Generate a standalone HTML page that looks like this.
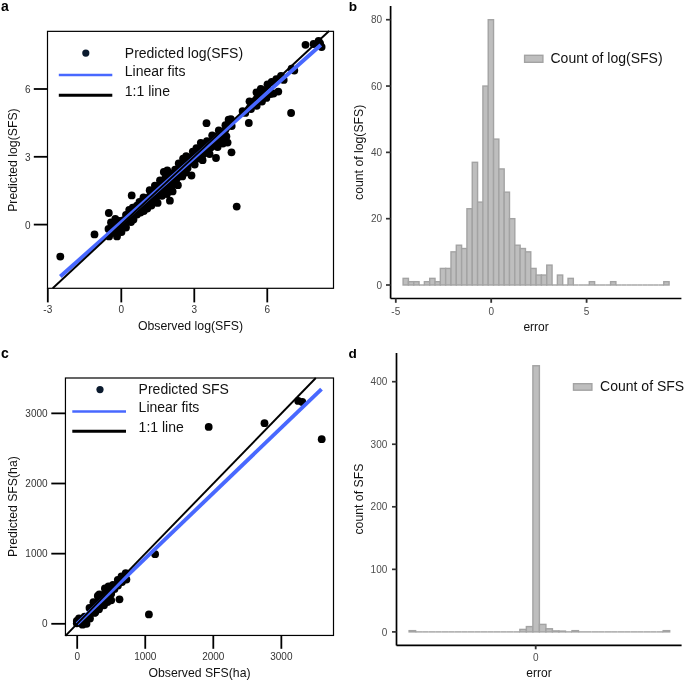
<!DOCTYPE html>
<html><head><meta charset="utf-8"><style>
html,body{margin:0;padding:0;background:#fff;}
svg{display:block;font-family:"Liberation Sans", sans-serif;will-change:transform;}
</style></head><body>
<svg width="685" height="681" viewBox="0 0 685 681">
<rect width="685" height="681" fill="#fff"/>
<text x="1.0" y="11.4" font-size="14" text-anchor="start" font-weight="bold" fill="#000">a</text>
<text x="348.7" y="11.3" font-size="13.6" text-anchor="start" font-weight="bold" fill="#000">b</text>
<text x="1.0" y="358.2" font-size="14" text-anchor="start" font-weight="bold" fill="#000">c</text>
<text x="348.5" y="358.2" font-size="13.6" text-anchor="start" font-weight="bold" fill="#000">d</text>
<polygon points="108.5,229 111,222.5 115.3,219 119.5,221 123,220.5 126,215 129.2,209.8 132.7,207.7 136.9,205.7 139.5,202 143.5,197.3 149.7,190.2 154.9,185.6 160,180.3 163.8,172 167.3,170.5 175.1,169.6 178.7,163.5 183.1,158.6 186.2,156.1 192.8,151.6 196.4,148.1 200.8,142.8 206.9,141.1 212.2,135.3 218.8,130.5 225.4,125.2 228.6,119.7 230.9,119.1 231.7,126.1 226.4,136.4 222.9,143.5 217.6,147 209.6,154.1 202.6,160.2 194.7,164.6 187.6,168.1 182.3,176.4 177.9,185.2 172.6,191.4 167,194 162,195.8 157.6,202.9 151.4,205.5 147.3,208.5 143.8,211 140.5,212.5 137,214.5 133.5,219.5 131,222 126,227.5 121.5,232 117,236.4 109.1,236.4" fill="#000000"/>
<polygon points="242.6,111.1 249.5,101.3 256.5,92.5 260.8,89 267.5,84.3 271.7,82 270.5,94 266.4,97.9 262,101.5 256.7,105.8 251,109 245.3,112.9" fill="#000000"/>
<circle cx="108.5" cy="229" r="3.9" fill="#000000"/>
<circle cx="111" cy="222.5" r="3.9" fill="#000000"/>
<circle cx="115.3" cy="219" r="3.9" fill="#000000"/>
<circle cx="119.5" cy="221" r="3.9" fill="#000000"/>
<circle cx="123" cy="220.5" r="3.9" fill="#000000"/>
<circle cx="126" cy="215" r="3.9" fill="#000000"/>
<circle cx="129.2" cy="209.8" r="3.9" fill="#000000"/>
<circle cx="132.7" cy="207.7" r="3.9" fill="#000000"/>
<circle cx="136.9" cy="205.7" r="3.9" fill="#000000"/>
<circle cx="139.5" cy="202" r="3.9" fill="#000000"/>
<circle cx="143.5" cy="197.3" r="3.9" fill="#000000"/>
<circle cx="149.7" cy="190.2" r="3.9" fill="#000000"/>
<circle cx="154.9" cy="185.6" r="3.9" fill="#000000"/>
<circle cx="160" cy="180.3" r="3.9" fill="#000000"/>
<circle cx="163.8" cy="172" r="3.9" fill="#000000"/>
<circle cx="167.3" cy="170.5" r="3.9" fill="#000000"/>
<circle cx="175.1" cy="169.6" r="3.9" fill="#000000"/>
<circle cx="178.7" cy="163.5" r="3.9" fill="#000000"/>
<circle cx="183.1" cy="158.6" r="3.9" fill="#000000"/>
<circle cx="186.2" cy="156.1" r="3.9" fill="#000000"/>
<circle cx="192.8" cy="151.6" r="3.9" fill="#000000"/>
<circle cx="196.4" cy="148.1" r="3.9" fill="#000000"/>
<circle cx="200.8" cy="142.8" r="3.9" fill="#000000"/>
<circle cx="206.9" cy="141.1" r="3.9" fill="#000000"/>
<circle cx="212.2" cy="135.3" r="3.9" fill="#000000"/>
<circle cx="218.8" cy="130.5" r="3.9" fill="#000000"/>
<circle cx="225.4" cy="125.2" r="3.9" fill="#000000"/>
<circle cx="228.6" cy="119.7" r="3.9" fill="#000000"/>
<circle cx="230.9" cy="119.1" r="3.9" fill="#000000"/>
<circle cx="109.1" cy="236.4" r="3.9" fill="#000000"/>
<circle cx="117" cy="236.4" r="3.9" fill="#000000"/>
<circle cx="121.5" cy="232" r="3.9" fill="#000000"/>
<circle cx="126" cy="227.5" r="3.9" fill="#000000"/>
<circle cx="131" cy="222" r="3.9" fill="#000000"/>
<circle cx="133.5" cy="219.5" r="3.9" fill="#000000"/>
<circle cx="137" cy="214.5" r="3.9" fill="#000000"/>
<circle cx="140.5" cy="212.5" r="3.9" fill="#000000"/>
<circle cx="143.8" cy="211" r="3.9" fill="#000000"/>
<circle cx="147.3" cy="208.5" r="3.9" fill="#000000"/>
<circle cx="151.4" cy="205.5" r="3.9" fill="#000000"/>
<circle cx="157.6" cy="202.9" r="3.9" fill="#000000"/>
<circle cx="162" cy="195.8" r="3.9" fill="#000000"/>
<circle cx="167" cy="194" r="3.9" fill="#000000"/>
<circle cx="172.6" cy="191.4" r="3.9" fill="#000000"/>
<circle cx="177.9" cy="185.2" r="3.9" fill="#000000"/>
<circle cx="182.3" cy="176.4" r="3.9" fill="#000000"/>
<circle cx="187.6" cy="168.1" r="3.9" fill="#000000"/>
<circle cx="194.7" cy="164.6" r="3.9" fill="#000000"/>
<circle cx="202.6" cy="160.2" r="3.9" fill="#000000"/>
<circle cx="209.6" cy="154.1" r="3.9" fill="#000000"/>
<circle cx="217.6" cy="147" r="3.9" fill="#000000"/>
<circle cx="222.9" cy="143.5" r="3.9" fill="#000000"/>
<circle cx="226.4" cy="136.4" r="3.9" fill="#000000"/>
<circle cx="231.7" cy="126.1" r="3.9" fill="#000000"/>
<circle cx="242.6" cy="111.1" r="3.9" fill="#000000"/>
<circle cx="249.5" cy="101.3" r="3.9" fill="#000000"/>
<circle cx="256.5" cy="92.5" r="3.9" fill="#000000"/>
<circle cx="260.8" cy="89" r="3.9" fill="#000000"/>
<circle cx="267.5" cy="84.3" r="3.9" fill="#000000"/>
<circle cx="271.7" cy="82" r="3.9" fill="#000000"/>
<circle cx="245.3" cy="112.9" r="3.9" fill="#000000"/>
<circle cx="251" cy="109" r="3.9" fill="#000000"/>
<circle cx="256.7" cy="105.8" r="3.9" fill="#000000"/>
<circle cx="262" cy="101.5" r="3.9" fill="#000000"/>
<circle cx="266.4" cy="97.9" r="3.9" fill="#000000"/>
<circle cx="270.5" cy="94" r="3.9" fill="#000000"/>
<circle cx="60.3" cy="256.6" r="3.9" fill="#000000"/>
<circle cx="94.5" cy="234.4" r="3.9" fill="#000000"/>
<circle cx="108.8" cy="213.0" r="3.9" fill="#000000"/>
<circle cx="131.7" cy="195.4" r="3.9" fill="#000000"/>
<circle cx="169.9" cy="200.7" r="3.9" fill="#000000"/>
<circle cx="206.5" cy="123.2" r="3.9" fill="#000000"/>
<circle cx="216" cy="158" r="3.9" fill="#000000"/>
<circle cx="227.6" cy="142.6" r="3.9" fill="#000000"/>
<circle cx="231.5" cy="152.3" r="3.9" fill="#000000"/>
<circle cx="236.7" cy="206.6" r="3.9" fill="#000000"/>
<circle cx="248.8" cy="123" r="3.9" fill="#000000"/>
<circle cx="291.1" cy="113" r="3.9" fill="#000000"/>
<circle cx="305.5" cy="44.8" r="3.9" fill="#000000"/>
<circle cx="313.6" cy="44" r="3.9" fill="#000000"/>
<circle cx="318.6" cy="40.8" r="3.9" fill="#000000"/>
<circle cx="320.1" cy="43.4" r="3.9" fill="#000000"/>
<circle cx="321.6" cy="47" r="3.9" fill="#000000"/>
<circle cx="191.5" cy="175.5" r="3.9" fill="#000000"/>
<circle cx="186" cy="172.5" r="3.9" fill="#000000"/>
<circle cx="273.5" cy="93.5" r="3.9" fill="#000000"/>
<circle cx="278.3" cy="91.6" r="3.9" fill="#000000"/>
<circle cx="276.3" cy="79.2" r="3.9" fill="#000000"/>
<circle cx="281" cy="75.8" r="3.9" fill="#000000"/>
<circle cx="283.7" cy="79.9" r="3.9" fill="#000000"/>
<circle cx="291.6" cy="68.6" r="3.9" fill="#000000"/>
<circle cx="294.3" cy="70.5" r="3.9" fill="#000000"/>
<line x1="60.3" y1="276.6" x2="320.8" y2="44.9" stroke="#4868ff" stroke-width="4.0" stroke-linecap="butt"/>
<line x1="52.7" y1="288.3" x2="329.1" y2="31.0" stroke="#000" stroke-width="1.9" stroke-linecap="butt"/>
<rect x="47.5" y="31.35" width="286.0" height="256.95" fill="none" stroke="#000" stroke-width="1.2"/>
<line x1="33.8" y1="224.6" x2="47.5" y2="224.6" stroke="#000" stroke-width="1.8" stroke-linecap="butt"/>
<text x="30.5" y="228.7" font-size="10" text-anchor="end" font-weight="normal" fill="#333333">0</text>
<line x1="33.8" y1="156.79999999999998" x2="47.5" y2="156.79999999999998" stroke="#000" stroke-width="1.8" stroke-linecap="butt"/>
<text x="30.5" y="160.89999999999998" font-size="10" text-anchor="end" font-weight="normal" fill="#333333">3</text>
<line x1="33.8" y1="88.99999999999997" x2="47.5" y2="88.99999999999997" stroke="#000" stroke-width="1.8" stroke-linecap="butt"/>
<text x="30.5" y="93.09999999999997" font-size="10" text-anchor="end" font-weight="normal" fill="#333333">6</text>
<line x1="47.8" y1="288.3" x2="47.8" y2="302.4" stroke="#000" stroke-width="1.8" stroke-linecap="butt"/>
<text x="47.8" y="313.2" font-size="10" text-anchor="middle" font-weight="normal" fill="#333333">-3</text>
<line x1="121.3" y1="288.3" x2="121.3" y2="302.4" stroke="#000" stroke-width="1.8" stroke-linecap="butt"/>
<text x="121.3" y="313.2" font-size="10" text-anchor="middle" font-weight="normal" fill="#333333">0</text>
<line x1="194.29" y1="288.3" x2="194.29" y2="302.4" stroke="#000" stroke-width="1.8" stroke-linecap="butt"/>
<text x="194.29" y="313.2" font-size="10" text-anchor="middle" font-weight="normal" fill="#333333">3</text>
<line x1="267.28" y1="288.3" x2="267.28" y2="302.4" stroke="#000" stroke-width="1.8" stroke-linecap="butt"/>
<text x="267.28" y="313.2" font-size="10" text-anchor="middle" font-weight="normal" fill="#333333">6</text>
<text x="190.5" y="330.4" font-size="12.3" text-anchor="middle" font-weight="normal" fill="#111">Observed log(SFS)</text>
<text x="17.3" y="160.1" font-size="12.25" text-anchor="middle" font-weight="normal" fill="#111" transform="rotate(-90 17.3 160.1)">Predicted log(SFS)</text>
<circle cx="85.8" cy="53.1" r="3.6" fill="#0b1a2e"/>
<line x1="58.8" y1="75.0" x2="112.3" y2="75.0" stroke="#4868ff" stroke-width="2.5" stroke-linecap="butt"/>
<line x1="58.8" y1="95.2" x2="112.3" y2="95.2" stroke="#000" stroke-width="3.0" stroke-linecap="butt"/>
<text x="124.8" y="58.3" font-size="14" text-anchor="start" font-weight="normal" fill="#111">Predicted log(SFS)</text>
<text x="124.8" y="75.8" font-size="14" text-anchor="start" font-weight="normal" fill="#111">Linear fits</text>
<text x="124.8" y="95.7" font-size="14" text-anchor="start" font-weight="normal" fill="#111">1:1 line</text>
<rect x="403.10" y="278.37" width="5.32" height="6.63" fill="#bebebe" stroke="#a3a3a3" stroke-width="1.4"/>
<rect x="408.42" y="281.68" width="5.32" height="3.32" fill="#bebebe" stroke="#a3a3a3" stroke-width="1.4"/>
<rect x="413.74" y="281.68" width="5.32" height="3.32" fill="#bebebe" stroke="#a3a3a3" stroke-width="1.4"/>
<line x1="419.06" y1="285.0" x2="424.38" y2="285.0" stroke="#a3a3a3" stroke-width="1.4" stroke-linecap="butt"/>
<rect x="424.38" y="281.68" width="5.32" height="3.32" fill="#bebebe" stroke="#a3a3a3" stroke-width="1.4"/>
<rect x="429.70" y="278.37" width="5.32" height="6.63" fill="#bebebe" stroke="#a3a3a3" stroke-width="1.4"/>
<rect x="435.02" y="281.68" width="5.32" height="3.32" fill="#bebebe" stroke="#a3a3a3" stroke-width="1.4"/>
<rect x="440.34" y="268.42" width="5.32" height="16.58" fill="#bebebe" stroke="#a3a3a3" stroke-width="1.4"/>
<rect x="445.66" y="268.42" width="5.32" height="16.58" fill="#bebebe" stroke="#a3a3a3" stroke-width="1.4"/>
<rect x="450.98" y="251.84" width="5.32" height="33.16" fill="#bebebe" stroke="#a3a3a3" stroke-width="1.4"/>
<rect x="456.30" y="245.21" width="5.32" height="39.79" fill="#bebebe" stroke="#a3a3a3" stroke-width="1.4"/>
<rect x="461.62" y="248.52" width="5.32" height="36.48" fill="#bebebe" stroke="#a3a3a3" stroke-width="1.4"/>
<rect x="466.94" y="208.73" width="5.32" height="76.27" fill="#bebebe" stroke="#a3a3a3" stroke-width="1.4"/>
<rect x="472.26" y="162.31" width="5.32" height="122.69" fill="#bebebe" stroke="#a3a3a3" stroke-width="1.4"/>
<rect x="477.58" y="202.10" width="5.32" height="82.90" fill="#bebebe" stroke="#a3a3a3" stroke-width="1.4"/>
<rect x="482.90" y="86.04" width="5.32" height="198.96" fill="#bebebe" stroke="#a3a3a3" stroke-width="1.4"/>
<rect x="488.22" y="19.72" width="5.32" height="265.28" fill="#bebebe" stroke="#a3a3a3" stroke-width="1.4"/>
<rect x="493.54" y="139.10" width="5.32" height="145.90" fill="#bebebe" stroke="#a3a3a3" stroke-width="1.4"/>
<rect x="498.86" y="168.94" width="5.32" height="116.06" fill="#bebebe" stroke="#a3a3a3" stroke-width="1.4"/>
<rect x="504.18" y="192.15" width="5.32" height="92.85" fill="#bebebe" stroke="#a3a3a3" stroke-width="1.4"/>
<rect x="509.50" y="218.68" width="5.32" height="66.32" fill="#bebebe" stroke="#a3a3a3" stroke-width="1.4"/>
<rect x="514.82" y="245.21" width="5.32" height="39.79" fill="#bebebe" stroke="#a3a3a3" stroke-width="1.4"/>
<rect x="520.14" y="248.52" width="5.32" height="36.48" fill="#bebebe" stroke="#a3a3a3" stroke-width="1.4"/>
<rect x="525.46" y="251.84" width="5.32" height="33.16" fill="#bebebe" stroke="#a3a3a3" stroke-width="1.4"/>
<rect x="530.78" y="268.42" width="5.32" height="16.58" fill="#bebebe" stroke="#a3a3a3" stroke-width="1.4"/>
<rect x="536.10" y="275.05" width="5.32" height="9.95" fill="#bebebe" stroke="#a3a3a3" stroke-width="1.4"/>
<rect x="541.42" y="275.05" width="5.32" height="9.95" fill="#bebebe" stroke="#a3a3a3" stroke-width="1.4"/>
<rect x="546.74" y="265.10" width="5.32" height="19.90" fill="#bebebe" stroke="#a3a3a3" stroke-width="1.4"/>
<line x1="552.06" y1="285.0" x2="557.38" y2="285.0" stroke="#a3a3a3" stroke-width="1.4" stroke-linecap="butt"/>
<rect x="557.38" y="275.05" width="5.32" height="9.95" fill="#bebebe" stroke="#a3a3a3" stroke-width="1.4"/>
<line x1="562.70" y1="285.0" x2="568.02" y2="285.0" stroke="#a3a3a3" stroke-width="1.4" stroke-linecap="butt"/>
<rect x="568.02" y="278.37" width="5.32" height="6.63" fill="#bebebe" stroke="#a3a3a3" stroke-width="1.4"/>
<line x1="573.34" y1="285.0" x2="578.66" y2="285.0" stroke="#a3a3a3" stroke-width="1.4" stroke-linecap="butt"/>
<line x1="578.66" y1="285.0" x2="583.98" y2="285.0" stroke="#a3a3a3" stroke-width="1.4" stroke-linecap="butt"/>
<line x1="583.98" y1="285.0" x2="589.30" y2="285.0" stroke="#a3a3a3" stroke-width="1.4" stroke-linecap="butt"/>
<rect x="589.30" y="281.68" width="5.32" height="3.32" fill="#bebebe" stroke="#a3a3a3" stroke-width="1.4"/>
<line x1="594.62" y1="285.0" x2="599.94" y2="285.0" stroke="#a3a3a3" stroke-width="1.4" stroke-linecap="butt"/>
<line x1="599.94" y1="285.0" x2="605.26" y2="285.0" stroke="#a3a3a3" stroke-width="1.4" stroke-linecap="butt"/>
<line x1="605.26" y1="285.0" x2="610.58" y2="285.0" stroke="#a3a3a3" stroke-width="1.4" stroke-linecap="butt"/>
<rect x="610.58" y="281.68" width="5.32" height="3.32" fill="#bebebe" stroke="#a3a3a3" stroke-width="1.4"/>
<line x1="615.90" y1="285.0" x2="621.22" y2="285.0" stroke="#a3a3a3" stroke-width="1.4" stroke-linecap="butt"/>
<line x1="621.22" y1="285.0" x2="626.54" y2="285.0" stroke="#a3a3a3" stroke-width="1.4" stroke-linecap="butt"/>
<line x1="626.54" y1="285.0" x2="631.86" y2="285.0" stroke="#a3a3a3" stroke-width="1.4" stroke-linecap="butt"/>
<line x1="631.86" y1="285.0" x2="637.18" y2="285.0" stroke="#a3a3a3" stroke-width="1.4" stroke-linecap="butt"/>
<line x1="637.18" y1="285.0" x2="642.50" y2="285.0" stroke="#a3a3a3" stroke-width="1.4" stroke-linecap="butt"/>
<line x1="642.50" y1="285.0" x2="647.82" y2="285.0" stroke="#a3a3a3" stroke-width="1.4" stroke-linecap="butt"/>
<line x1="647.82" y1="285.0" x2="653.14" y2="285.0" stroke="#a3a3a3" stroke-width="1.4" stroke-linecap="butt"/>
<line x1="653.14" y1="285.0" x2="658.46" y2="285.0" stroke="#a3a3a3" stroke-width="1.4" stroke-linecap="butt"/>
<line x1="658.46" y1="285.0" x2="663.78" y2="285.0" stroke="#a3a3a3" stroke-width="1.4" stroke-linecap="butt"/>
<rect x="663.78" y="281.68" width="5.32" height="3.32" fill="#bebebe" stroke="#a3a3a3" stroke-width="1.4"/>
<line x1="390.6" y1="5.9" x2="390.6" y2="298.5" stroke="#000" stroke-width="1.7" stroke-linecap="butt"/>
<line x1="390.6" y1="298.5" x2="681.4" y2="298.5" stroke="#000" stroke-width="1.7" stroke-linecap="butt"/>
<line x1="386.0" y1="285.0" x2="390.6" y2="285.0" stroke="#333" stroke-width="1.7" stroke-linecap="butt"/>
<text x="382" y="288.6" font-size="10" text-anchor="end" font-weight="normal" fill="#4d4d4d">0</text>
<line x1="386.0" y1="218.68" x2="390.6" y2="218.68" stroke="#333" stroke-width="1.7" stroke-linecap="butt"/>
<text x="382" y="222.28" font-size="10" text-anchor="end" font-weight="normal" fill="#4d4d4d">20</text>
<line x1="386.0" y1="152.36" x2="390.6" y2="152.36" stroke="#333" stroke-width="1.7" stroke-linecap="butt"/>
<text x="382" y="155.96" font-size="10" text-anchor="end" font-weight="normal" fill="#4d4d4d">40</text>
<line x1="386.0" y1="86.04000000000002" x2="390.6" y2="86.04000000000002" stroke="#333" stroke-width="1.7" stroke-linecap="butt"/>
<text x="382" y="89.64000000000001" font-size="10" text-anchor="end" font-weight="normal" fill="#4d4d4d">60</text>
<line x1="386.0" y1="19.720000000000027" x2="390.6" y2="19.720000000000027" stroke="#333" stroke-width="1.7" stroke-linecap="butt"/>
<text x="382" y="23.32000000000003" font-size="10" text-anchor="end" font-weight="normal" fill="#4d4d4d">80</text>
<line x1="395.8" y1="298.5" x2="395.8" y2="302.8" stroke="#333" stroke-width="1.8" stroke-linecap="butt"/>
<text x="395.8" y="314.8" font-size="10" text-anchor="middle" font-weight="normal" fill="#4d4d4d">-5</text>
<line x1="491.2" y1="298.5" x2="491.2" y2="302.8" stroke="#333" stroke-width="1.8" stroke-linecap="butt"/>
<text x="491.2" y="314.8" font-size="10" text-anchor="middle" font-weight="normal" fill="#4d4d4d">0</text>
<line x1="586.6" y1="298.5" x2="586.6" y2="302.8" stroke="#333" stroke-width="1.8" stroke-linecap="butt"/>
<text x="586.6" y="314.8" font-size="10" text-anchor="middle" font-weight="normal" fill="#4d4d4d">5</text>
<text x="536.1" y="330.7" font-size="12" text-anchor="middle" font-weight="normal" fill="#111">error</text>
<text x="362.9" y="152.3" font-size="12.25" text-anchor="middle" font-weight="normal" fill="#111" transform="rotate(-90 362.9 152.3)">count of log(SFS)</text>
<rect x="524.6" y="55.3" width="18.3" height="7.0" fill="#bebebe" stroke="#a3a3a3" stroke-width="1.4"/>
<text x="550.5" y="62.7" font-size="14" text-anchor="start" font-weight="normal" fill="#111">Count of log(SFS)</text>
<polygon points="76.8,621 79,618.5 84.6,616.7 89.5,607.9 93.4,602.2 97.8,596 104.9,588.5 108.5,586.5 112.9,584.8 117.8,579.8 121.5,576.5 125.7,573.2 126.4,579.5 122,582 118,585.5 114.5,589 111.2,593.7 111.2,600.3 107.5,602 104,605.3 99,609.3 94.4,612.9 90,618.5 86.5,623.8 82.5,624.7 76.8,623.3" fill="#000000"/>
<circle cx="76.8" cy="621" r="3.9" fill="#000000"/>
<circle cx="79" cy="618.5" r="3.9" fill="#000000"/>
<circle cx="84.6" cy="616.7" r="3.9" fill="#000000"/>
<circle cx="89.5" cy="607.9" r="3.9" fill="#000000"/>
<circle cx="93.4" cy="602.2" r="3.9" fill="#000000"/>
<circle cx="97.8" cy="596" r="3.9" fill="#000000"/>
<circle cx="104.9" cy="588.5" r="3.9" fill="#000000"/>
<circle cx="108.5" cy="586.5" r="3.9" fill="#000000"/>
<circle cx="112.9" cy="584.8" r="3.9" fill="#000000"/>
<circle cx="117.8" cy="579.8" r="3.9" fill="#000000"/>
<circle cx="121.5" cy="576.5" r="3.9" fill="#000000"/>
<circle cx="125.7" cy="573.2" r="3.9" fill="#000000"/>
<circle cx="76.8" cy="623.3" r="3.9" fill="#000000"/>
<circle cx="82.5" cy="624.7" r="3.9" fill="#000000"/>
<circle cx="86.5" cy="623.8" r="3.9" fill="#000000"/>
<circle cx="90" cy="618.5" r="3.9" fill="#000000"/>
<circle cx="94.4" cy="612.9" r="3.9" fill="#000000"/>
<circle cx="99" cy="609.3" r="3.9" fill="#000000"/>
<circle cx="104" cy="605.3" r="3.9" fill="#000000"/>
<circle cx="107.5" cy="602" r="3.9" fill="#000000"/>
<circle cx="111.2" cy="600.3" r="3.9" fill="#000000"/>
<circle cx="111.2" cy="593.7" r="3.9" fill="#000000"/>
<circle cx="114.5" cy="589" r="3.9" fill="#000000"/>
<circle cx="118" cy="585.5" r="3.9" fill="#000000"/>
<circle cx="122" cy="582" r="3.9" fill="#000000"/>
<circle cx="126.4" cy="579.5" r="3.9" fill="#000000"/>
<circle cx="119.5" cy="599.3" r="3.9" fill="#000000"/>
<circle cx="148.9" cy="614.4" r="3.9" fill="#000000"/>
<circle cx="155.1" cy="554.2" r="3.9" fill="#000000"/>
<circle cx="208.7" cy="426.9" r="3.9" fill="#000000"/>
<circle cx="264.5" cy="423.2" r="3.9" fill="#000000"/>
<circle cx="298.2" cy="400.9" r="3.9" fill="#000000"/>
<circle cx="302.3" cy="402" r="3.9" fill="#000000"/>
<circle cx="321.7" cy="439.2" r="3.9" fill="#000000"/>
<circle cx="99.3" cy="594.4" r="3.9" fill="#000000"/>
<circle cx="95.3" cy="612.3" r="3.9" fill="#000000"/>
<line x1="77.1" y1="623.8" x2="321.5" y2="389.1" stroke="#4868ff" stroke-width="3.9" stroke-linecap="butt"/>
<line x1="65.4" y1="635.8" x2="315.8" y2="378.0" stroke="#000" stroke-width="1.9" stroke-linecap="butt"/>
<rect x="65.45" y="378.0" width="268.05" height="257.45000000000005" fill="none" stroke="#000" stroke-width="1.2"/>
<line x1="51.3" y1="623.8" x2="65.45" y2="623.8" stroke="#000" stroke-width="1.8" stroke-linecap="butt"/>
<text x="47.6" y="627.4" font-size="10" text-anchor="end" font-weight="normal" fill="#333333">0</text>
<line x1="51.3" y1="553.65" x2="65.45" y2="553.65" stroke="#000" stroke-width="1.8" stroke-linecap="butt"/>
<text x="47.6" y="557.25" font-size="10" text-anchor="end" font-weight="normal" fill="#333333">1000</text>
<line x1="51.3" y1="483.49999999999994" x2="65.45" y2="483.49999999999994" stroke="#000" stroke-width="1.8" stroke-linecap="butt"/>
<text x="47.6" y="487.09999999999997" font-size="10" text-anchor="end" font-weight="normal" fill="#333333">2000</text>
<line x1="51.3" y1="413.3499999999999" x2="65.45" y2="413.3499999999999" stroke="#000" stroke-width="1.8" stroke-linecap="butt"/>
<text x="47.6" y="416.94999999999993" font-size="10" text-anchor="end" font-weight="normal" fill="#333333">3000</text>
<line x1="77.2" y1="635.45" x2="77.2" y2="648.8" stroke="#000" stroke-width="1.8" stroke-linecap="butt"/>
<text x="77.2" y="660.0" font-size="10" text-anchor="middle" font-weight="normal" fill="#333333">0</text>
<line x1="145.25" y1="635.45" x2="145.25" y2="648.8" stroke="#000" stroke-width="1.8" stroke-linecap="butt"/>
<text x="145.25" y="660.0" font-size="10" text-anchor="middle" font-weight="normal" fill="#333333">1000</text>
<line x1="213.3" y1="635.45" x2="213.3" y2="648.8" stroke="#000" stroke-width="1.8" stroke-linecap="butt"/>
<text x="213.3" y="660.0" font-size="10" text-anchor="middle" font-weight="normal" fill="#333333">2000</text>
<line x1="281.35" y1="635.45" x2="281.35" y2="648.8" stroke="#000" stroke-width="1.8" stroke-linecap="butt"/>
<text x="281.35" y="660.0" font-size="10" text-anchor="middle" font-weight="normal" fill="#333333">3000</text>
<text x="199.5" y="676.6" font-size="12.25" text-anchor="middle" font-weight="normal" fill="#111">Observed SFS(ha)</text>
<text x="16.9" y="506.6" font-size="12.25" text-anchor="middle" font-weight="normal" fill="#111" transform="rotate(-90 16.9 506.6)">Predicted SFS(ha)</text>
<circle cx="100" cy="389.6" r="3.6" fill="#0b1a2e"/>
<line x1="72.3" y1="411.5" x2="126" y2="411.5" stroke="#4868ff" stroke-width="2.5" stroke-linecap="butt"/>
<line x1="72.3" y1="431.3" x2="126" y2="431.3" stroke="#000" stroke-width="3.0" stroke-linecap="butt"/>
<text x="138.6" y="394.2" font-size="14" text-anchor="start" font-weight="normal" fill="#111">Predicted SFS</text>
<text x="138.6" y="412.3" font-size="14" text-anchor="start" font-weight="normal" fill="#111">Linear fits</text>
<text x="138.6" y="432.2" font-size="14" text-anchor="start" font-weight="normal" fill="#111">1:1 line</text>
<rect x="409.10" y="630.65" width="6.51" height="1.25" fill="#bebebe" stroke="#a3a3a3" stroke-width="1.4"/>
<line x1="415.62" y1="631.9" x2="422.13" y2="631.9" stroke="#a3a3a3" stroke-width="1.4" stroke-linecap="butt"/>
<line x1="422.13" y1="631.9" x2="428.64" y2="631.9" stroke="#a3a3a3" stroke-width="1.4" stroke-linecap="butt"/>
<line x1="428.65" y1="631.9" x2="435.16" y2="631.9" stroke="#a3a3a3" stroke-width="1.4" stroke-linecap="butt"/>
<line x1="435.16" y1="631.9" x2="441.68" y2="631.9" stroke="#a3a3a3" stroke-width="1.4" stroke-linecap="butt"/>
<line x1="441.68" y1="631.9" x2="448.19" y2="631.9" stroke="#a3a3a3" stroke-width="1.4" stroke-linecap="butt"/>
<line x1="448.19" y1="631.9" x2="454.70" y2="631.9" stroke="#a3a3a3" stroke-width="1.4" stroke-linecap="butt"/>
<line x1="454.71" y1="631.9" x2="461.22" y2="631.9" stroke="#a3a3a3" stroke-width="1.4" stroke-linecap="butt"/>
<line x1="461.22" y1="631.9" x2="467.74" y2="631.9" stroke="#a3a3a3" stroke-width="1.4" stroke-linecap="butt"/>
<line x1="467.74" y1="631.9" x2="474.25" y2="631.9" stroke="#a3a3a3" stroke-width="1.4" stroke-linecap="butt"/>
<line x1="474.25" y1="631.9" x2="480.76" y2="631.9" stroke="#a3a3a3" stroke-width="1.4" stroke-linecap="butt"/>
<line x1="480.76" y1="631.9" x2="487.28" y2="631.9" stroke="#a3a3a3" stroke-width="1.4" stroke-linecap="butt"/>
<line x1="487.28" y1="631.9" x2="493.80" y2="631.9" stroke="#a3a3a3" stroke-width="1.4" stroke-linecap="butt"/>
<line x1="493.80" y1="631.9" x2="500.31" y2="631.9" stroke="#a3a3a3" stroke-width="1.4" stroke-linecap="butt"/>
<line x1="500.31" y1="631.9" x2="506.82" y2="631.9" stroke="#a3a3a3" stroke-width="1.4" stroke-linecap="butt"/>
<line x1="506.83" y1="631.9" x2="513.34" y2="631.9" stroke="#a3a3a3" stroke-width="1.4" stroke-linecap="butt"/>
<line x1="513.34" y1="631.9" x2="519.86" y2="631.9" stroke="#a3a3a3" stroke-width="1.4" stroke-linecap="butt"/>
<rect x="519.86" y="629.40" width="6.51" height="2.50" fill="#bebebe" stroke="#a3a3a3" stroke-width="1.4"/>
<rect x="526.37" y="626.58" width="6.51" height="5.32" fill="#bebebe" stroke="#a3a3a3" stroke-width="1.4"/>
<rect x="532.88" y="365.75" width="6.51" height="266.15" fill="#bebebe" stroke="#a3a3a3" stroke-width="1.4"/>
<rect x="539.40" y="624.39" width="6.51" height="7.51" fill="#bebebe" stroke="#a3a3a3" stroke-width="1.4"/>
<rect x="545.91" y="628.77" width="6.51" height="3.13" fill="#bebebe" stroke="#a3a3a3" stroke-width="1.4"/>
<rect x="552.43" y="630.90" width="6.51" height="1.00" fill="#bebebe" stroke="#a3a3a3" stroke-width="1.4"/>
<rect x="558.95" y="631.09" width="6.51" height="0.81" fill="#bebebe" stroke="#a3a3a3" stroke-width="1.4"/>
<line x1="565.46" y1="631.9" x2="571.98" y2="631.9" stroke="#a3a3a3" stroke-width="1.4" stroke-linecap="butt"/>
<rect x="571.98" y="630.65" width="6.51" height="1.25" fill="#bebebe" stroke="#a3a3a3" stroke-width="1.4"/>
<line x1="578.49" y1="631.9" x2="585.00" y2="631.9" stroke="#a3a3a3" stroke-width="1.4" stroke-linecap="butt"/>
<line x1="585.00" y1="631.9" x2="591.52" y2="631.9" stroke="#a3a3a3" stroke-width="1.4" stroke-linecap="butt"/>
<line x1="591.52" y1="631.9" x2="598.03" y2="631.9" stroke="#a3a3a3" stroke-width="1.4" stroke-linecap="butt"/>
<line x1="598.04" y1="631.9" x2="604.55" y2="631.9" stroke="#a3a3a3" stroke-width="1.4" stroke-linecap="butt"/>
<line x1="604.55" y1="631.9" x2="611.06" y2="631.9" stroke="#a3a3a3" stroke-width="1.4" stroke-linecap="butt"/>
<line x1="611.07" y1="631.9" x2="617.58" y2="631.9" stroke="#a3a3a3" stroke-width="1.4" stroke-linecap="butt"/>
<line x1="617.58" y1="631.9" x2="624.10" y2="631.9" stroke="#a3a3a3" stroke-width="1.4" stroke-linecap="butt"/>
<line x1="624.10" y1="631.9" x2="630.61" y2="631.9" stroke="#a3a3a3" stroke-width="1.4" stroke-linecap="butt"/>
<line x1="630.61" y1="631.9" x2="637.12" y2="631.9" stroke="#a3a3a3" stroke-width="1.4" stroke-linecap="butt"/>
<line x1="637.12" y1="631.9" x2="643.64" y2="631.9" stroke="#a3a3a3" stroke-width="1.4" stroke-linecap="butt"/>
<line x1="643.64" y1="631.9" x2="650.15" y2="631.9" stroke="#a3a3a3" stroke-width="1.4" stroke-linecap="butt"/>
<line x1="650.15" y1="631.9" x2="656.67" y2="631.9" stroke="#a3a3a3" stroke-width="1.4" stroke-linecap="butt"/>
<line x1="656.67" y1="631.9" x2="663.19" y2="631.9" stroke="#a3a3a3" stroke-width="1.4" stroke-linecap="butt"/>
<rect x="663.18" y="630.65" width="6.51" height="1.25" fill="#bebebe" stroke="#a3a3a3" stroke-width="1.4"/>
<line x1="396.5" y1="352.9" x2="396.5" y2="645.4" stroke="#000" stroke-width="1.7" stroke-linecap="butt"/>
<line x1="396.5" y1="645.4" x2="681.6" y2="645.4" stroke="#000" stroke-width="1.7" stroke-linecap="butt"/>
<line x1="392" y1="631.9" x2="396.5" y2="631.9" stroke="#333" stroke-width="1.7" stroke-linecap="butt"/>
<text x="387.3" y="635.5" font-size="10" text-anchor="end" font-weight="normal" fill="#4d4d4d">0</text>
<line x1="392" y1="569.35" x2="396.5" y2="569.35" stroke="#333" stroke-width="1.7" stroke-linecap="butt"/>
<text x="387.3" y="572.95" font-size="10" text-anchor="end" font-weight="normal" fill="#4d4d4d">100</text>
<line x1="392" y1="506.79999999999995" x2="396.5" y2="506.79999999999995" stroke="#333" stroke-width="1.7" stroke-linecap="butt"/>
<text x="387.3" y="510.4" font-size="10" text-anchor="end" font-weight="normal" fill="#4d4d4d">200</text>
<line x1="392" y1="444.25" x2="396.5" y2="444.25" stroke="#333" stroke-width="1.7" stroke-linecap="butt"/>
<text x="387.3" y="447.85" font-size="10" text-anchor="end" font-weight="normal" fill="#4d4d4d">300</text>
<line x1="392" y1="381.7" x2="396.5" y2="381.7" stroke="#333" stroke-width="1.7" stroke-linecap="butt"/>
<text x="387.3" y="385.3" font-size="10" text-anchor="end" font-weight="normal" fill="#4d4d4d">400</text>
<line x1="535.7" y1="645.4" x2="535.7" y2="649.3" stroke="#333" stroke-width="1.8" stroke-linecap="butt"/>
<text x="535.7" y="661.2" font-size="10" text-anchor="middle" font-weight="normal" fill="#4d4d4d">0</text>
<text x="539" y="677" font-size="12" text-anchor="middle" font-weight="normal" fill="#111">error</text>
<text x="362.9" y="499.1" font-size="12.25" text-anchor="middle" font-weight="normal" fill="#111" transform="rotate(-90 362.9 499.1)">count of SFS</text>
<rect x="573.5" y="383.7" width="18.4" height="6.5" fill="#bebebe" stroke="#a3a3a3" stroke-width="1.4"/>
<text x="600.1" y="390.5" font-size="14" text-anchor="start" font-weight="normal" fill="#111">Count of SFS</text>
</svg>
</body></html>
